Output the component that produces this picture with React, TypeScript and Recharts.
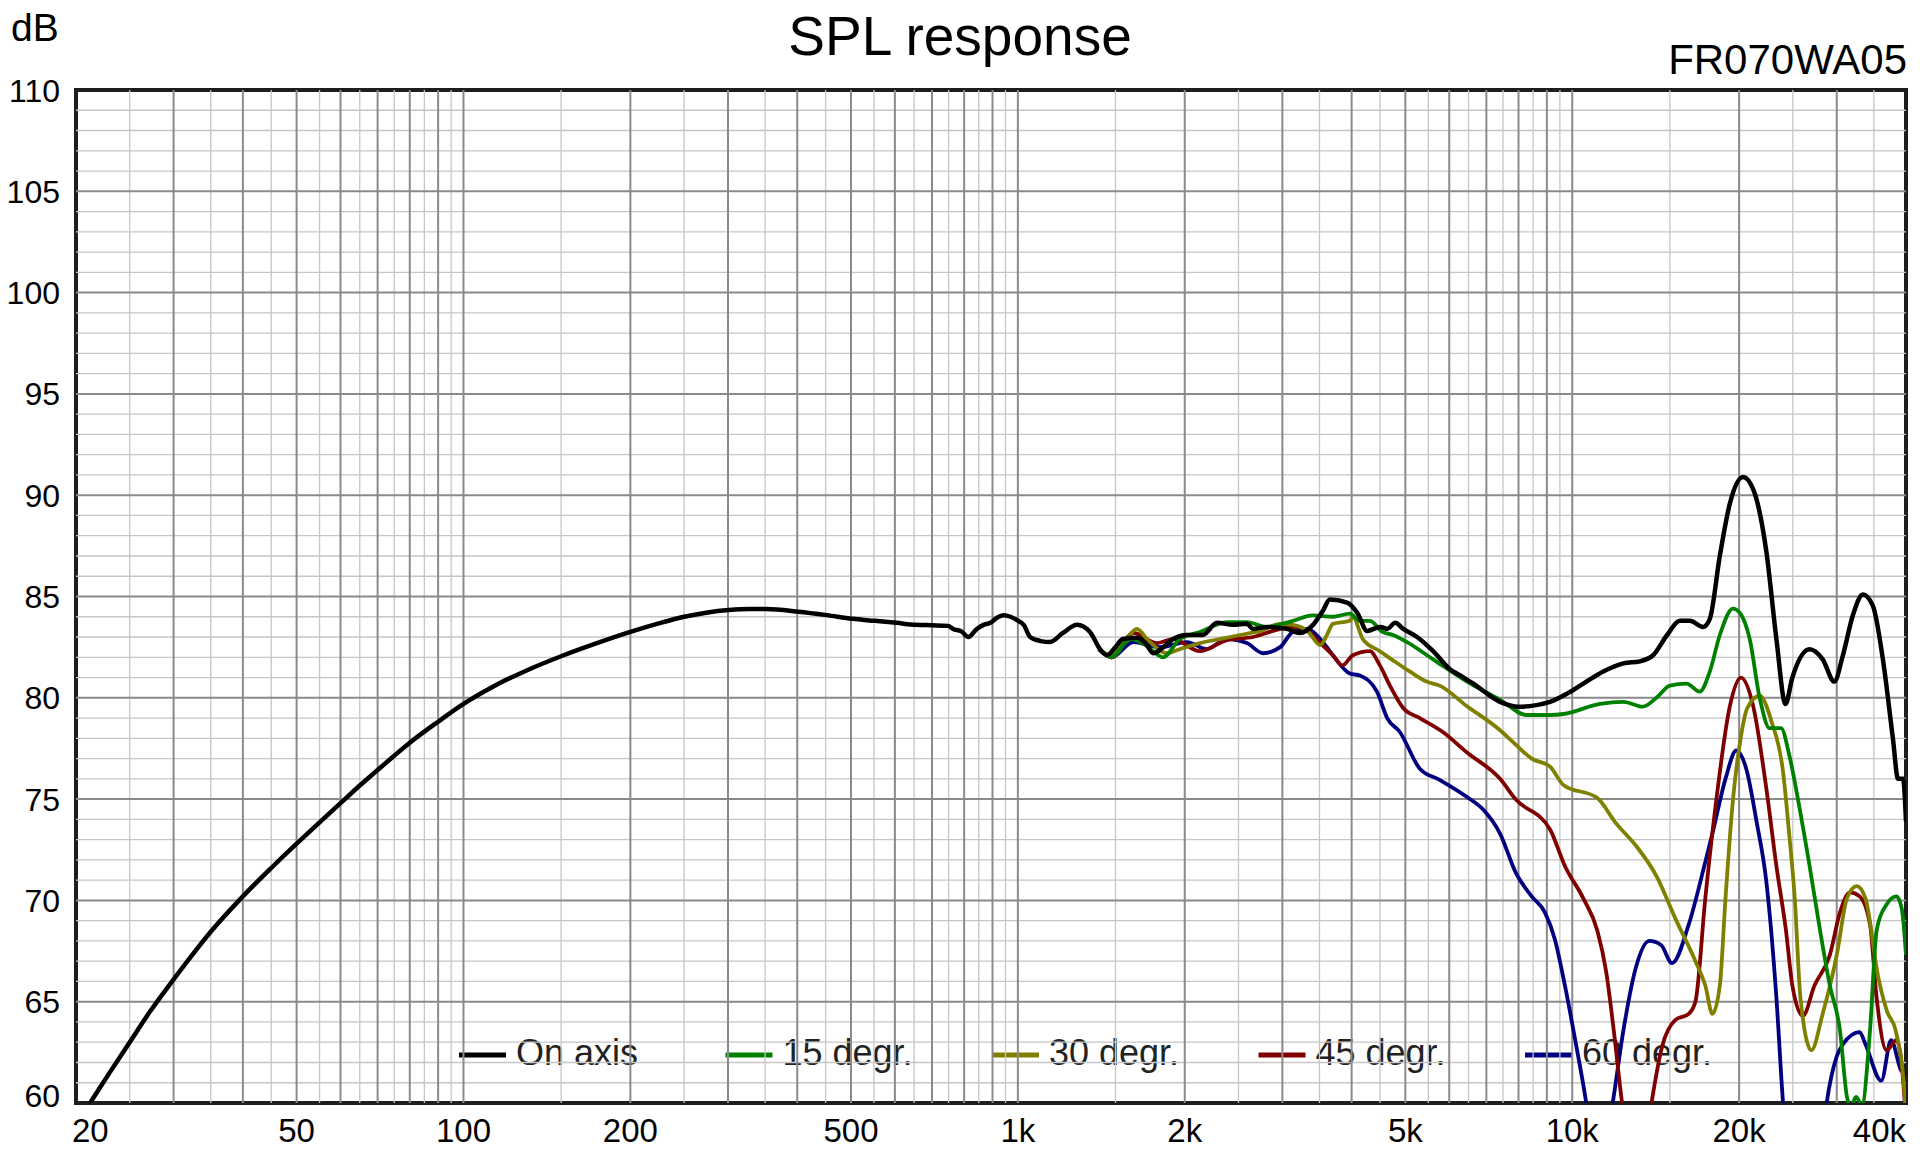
import React from 'react';
import { LineChart, Line, XAxis, YAxis, ReferenceLine, ReferenceArea, Customized } from 'recharts';

// ---------- data ----------
const onAxisFreq = [20, 21.2, 23, 25, 27.1, 30, 32.5, 35, 40, 45, 50, 55, 60, 65, 70, 75, 80, 90, 100, 113, 130, 150, 173, 200, 225, 250, 274, 301, 329, 351, 402, 452, 503, 552, 604, 654, 702, 748, 764, 791, 814, 843, 867, 892, 917, 943, 970, 997, 1026, 1052, 1100, 1142, 1206, 1278, 1349, 1407, 1449, 1500, 1546, 1639, 1700, 1754, 1830, 1906, 2018, 2157, 2286, 2444, 2590, 2655, 2813, 3056, 3227, 3407, 3550, 3654, 3925, 4094, 4267, 4508, 4636, 4795, 4956, 5250, 5612, 6025, 6280, 6630, 7410, 8000, 8610, 9120, 9780, 10470, 11380, 12370, 13250, 13990, 14830, 15640, 16300, 17220, 17710, 18460, 19250, 20330, 21200, 22400, 23350, 24250, 24950, 26790, 28300, 29700, 30780, 32100, 33440, 34850, 36340, 37880, 38700, 39520, 40000];
const onAxisDb = [58.94, 60.0, 61.5, 63.0, 64.45, 66.1, 67.35, 68.45, 70.2, 71.6, 72.8, 73.85, 74.8, 75.67, 76.44, 77.14, 77.78, 78.82, 79.7, 80.55, 81.35, 82.05, 82.67, 83.25, 83.67, 84.0, 84.2, 84.33, 84.38, 84.38, 84.25, 84.08, 83.9, 83.8, 83.7, 83.6, 83.58, 83.55, 83.4, 83.28, 83.0, 83.4, 83.6, 83.7, 83.95, 84.08, 84.0, 83.83, 83.58, 83.0, 82.8, 82.75, 83.2, 83.6, 83.25, 82.4, 82.1, 82.5, 82.9, 82.97, 82.7, 82.2, 82.5, 82.9, 83.1, 83.1, 83.7, 83.6, 83.65, 83.4, 83.5, 83.4, 83.2, 83.6, 84.3, 84.85, 84.7, 84.2, 83.3, 83.5, 83.4, 83.7, 83.4, 83.0, 82.3, 81.4, 81.1, 80.7, 79.8, 79.56, 79.64, 79.8, 80.2, 80.7, 81.3, 81.7, 81.8, 82.1, 83.1, 83.8, 83.8, 83.5, 83.9, 87.0, 89.6, 90.9, 90.3, 87.2, 82.9, 79.7, 81.0, 82.4, 81.9, 80.8, 82.1, 84.1, 85.1, 84.55, 81.9, 78.0, 76.0, 76.0, 73.9];

const deg15Freq = [1400, 1476, 1596, 1700, 1754, 1828, 1960, 2130, 2382, 2588, 2812, 3133, 3405, 3700, 3970, 4140, 4315, 4550, 4750, 5035, 5610, 6460, 7410, 8280, 9120, 9640, 11220, 12370, 13400, 14190, 15000, 16080, 16980, 17710, 18460, 19500, 20050, 20900, 21780, 22700, 23800, 24620, 25650, 26800, 28000, 29150, 30400, 31300, 31800, 32500, 33300, 34450, 35400, 36900, 38450, 39300, 40000];
const deg15Db = [82.4, 82.0, 82.9, 82.6, 82.3, 82.0, 82.9, 83.25, 83.74, 83.74, 83.5, 83.8, 84.07, 84.0, 84.15, 83.8, 83.8, 83.25, 83.1, 82.75, 81.9, 80.8, 79.9, 79.15, 79.15, 79.2, 79.7, 79.8, 79.56, 80.0, 80.6, 80.7, 80.3, 81.3, 83.1, 84.4, 84.2, 82.9, 80.0, 78.5, 78.5, 77.2, 74.7, 71.7, 68.5, 65.8, 63.6, 60.3, 59.8, 60.3, 59.9, 63.6, 68.5, 69.8, 70.2, 69.6, 67.3];

const deg30Freq = [1400, 1476, 1560, 1640, 1710, 1857, 1960, 2130, 2313, 2517, 2735, 2972, 3133, 3330, 3512, 3610, 3700, 3970, 4020, 4190, 4498, 4750, 5090, 5460, 5765, 6450, 7410, 7900, 8450, 9120, 9640, 11100, 12000, 13030, 14190, 15350, 16680, 17380, 17900, 18460, 18900, 19500, 20050, 20700, 21780, 22900, 23990, 24620, 25200, 25800, 27000, 28300, 30000, 31300, 32600, 33800, 35650, 37000, 38300, 39800, 40000];
const deg30Db = [82.4, 82.1, 82.8, 83.4, 82.9, 82.2, 82.4, 82.7, 82.9, 83.1, 83.3, 83.65, 83.6, 83.3, 82.6, 83.1, 83.65, 83.8, 84.0, 82.9, 82.3, 81.85, 81.3, 80.8, 80.6, 79.6, 78.4, 77.7, 77.0, 76.6, 75.7, 75.05, 73.8, 72.7, 71.2, 69.1, 67.0, 65.8, 64.4, 65.8, 70.1, 75.0, 77.7, 79.5, 80.1, 78.8, 76.4, 73.3, 70.1, 65.2, 62.6, 64.4, 67.3, 70.1, 70.7, 70.1, 66.2, 64.5, 63.6, 60.3, 59.0];

const deg45Freq = [1400, 1476, 1615, 1783, 1906, 2130, 2382, 2655, 2885, 3133, 3330, 3512, 3700, 3850, 4020, 4315, 4498, 4690, 4955, 5310, 5850, 6460, 7410, 7900, 9120, 9700, 10470, 11100, 11510, 11880, 12300, 12800, 13400, 13900, 14530, 15350, 16220, 16680, 17380, 18200, 19250, 20150, 21200, 22400, 23350, 24300, 24950, 26060, 27350, 29150, 30400, 31700, 33000, 34450, 35400, 36900, 38450, 39800, 40000];
const deg45Db = [82.4, 82.0, 83.2, 82.7, 82.9, 82.3, 82.85, 83.0, 83.3, 83.5, 83.3, 82.7, 82.1, 81.6, 82.1, 82.3, 81.6, 80.6, 79.5, 79.0, 78.3, 77.3, 76.0, 75.0, 73.5, 71.7, 70.1, 68.5, 66.5, 63.6, 60.0, 57.0, 57.0, 60.0, 62.8, 64.1, 64.4, 65.0, 70.1, 75.0, 79.6, 81.0, 79.6, 75.5, 71.7, 68.5, 65.8, 64.3, 65.8, 67.3, 69.4, 70.4, 70.2, 68.8, 65.2, 62.6, 63.1, 60.0, 58.0];

const deg60Freq = [1400, 1476, 1615, 1804, 2018, 2192, 2382, 2588, 2770, 2972, 3133, 3330, 3512, 3700, 3970, 4140, 4444, 4636, 4890, 5310, 5765, 6460, 6900, 7410, 7900, 8450, 8930, 9300, 9700, 10110, 10600, 11100, 11830, 12370, 13030, 13770, 14460, 15140, 16220, 17380, 17900, 18900, 19760, 20600, 21500, 22400, 23350, 23990, 25500, 27500, 28770, 30000, 30780, 33000, 33800, 36100, 37600, 39200, 40000];
const deg60Db = [82.4, 82.0, 82.75, 82.5, 82.75, 82.4, 82.9, 82.7, 82.2, 82.5, 83.25, 83.4, 82.9, 82.1, 81.2, 81.1, 80.3, 79.0, 78.3, 76.5, 75.95, 75.1, 74.5, 73.3, 71.4, 70.2, 69.4, 68.1, 65.8, 63.2, 60.0, 56.0, 60.0, 63.6, 66.7, 68.0, 67.8, 66.9, 68.8, 71.9, 73.3, 76.0, 77.4, 76.5, 73.9, 70.9, 65.2, 60.1, 55.0, 55.0, 60.0, 62.3, 62.9, 63.5, 62.9, 61.1, 63.1, 61.6, 61.4];

const seriesNames = ['On axis', '15 degr.', '30 degr.', '45 degr.', '60 degr.'];
const seriesColors = ['#000000', '#008000', '#808000', '#800000', '#000080'];

const xTicks = [20, 50, 100, 200, 500, 1000, 2000, 5000, 10000, 20000, 40000];
const xTickLabels = ['20', '50', '100', '200', '500', '1k', '2k', '5k', '10k', '20k', '40k'];
const yTicks = [60, 65, 70, 75, 80, 85, 90, 95, 100, 105, 110];

const majorFreqs = [30, 40, 50, 60, 70, 80, 90, 100, 200, 300, 400, 500, 600, 700, 800, 900, 1000, 2000, 3000, 4000, 5000, 6000, 7000, 8000, 9000, 10000, 20000, 30000];
const minorFreqs = [25, 35, 45, 55, 65, 75, 85, 95, 150, 250, 350, 450, 550, 650, 750, 850, 950, 1500, 2500, 3500, 4500, 5500, 6500, 7500, 8500, 9500, 15000, 25000, 35000];
const majorDb = [65, 70, 75, 80, 85, 90, 95, 100, 105];
const minorDb = [61, 62, 63, 64, 66, 67, 68, 69, 71, 72, 73, 74, 76, 77, 78, 79, 81, 82, 83, 84, 86, 87, 88, 89, 91, 92, 93, 94, 96, 97, 98, 99, 101, 102, 103, 104, 106, 107, 108, 109];

const toPoints = (f: number[], d: number[]) => f.map((v, i) => ({ f: v, db: d[i] }));
const seriesData = [
  toPoints(onAxisFreq, onAxisDb),
  toPoints(deg15Freq, deg15Db),
  toPoints(deg30Freq, deg30Db),
  toPoints(deg45Freq, deg45Db),
  toPoints(deg60Freq, deg60Db),
];

const FONT = 'Liberation Sans, Arial, Helvetica, sans-serif';

const XTick = (props: any) => {
  const { x, y, payload } = props;
  const i = xTicks.indexOf(payload.value);
  const anchor = i === 0 ? 'start' : i === xTicks.length - 1 ? 'end' : 'middle';
  const dx = i === 0 ? -4 : 0;
  return (
    <text x={x + dx} y={y + 39} textAnchor={anchor} fontSize={33} fill="#000" fontFamily={FONT}>
      {xTickLabels[i]}
    </text>
  );
};

const YTick = (props: any) => {
  const { x, y, payload } = props;
  const shift = payload.value === 60 ? -8 : 0;
  return (
    <text x={x - 16} y={y + shift} dy="0.36em" textAnchor="end" fontSize={32} fill="#000" fontFamily={FONT}>
      {payload.value}
    </text>
  );
};

const LegendLayer = () => (
  <g>
    <rect x={436} y={1007} width={1310} height={96} fill="#ffffff" fillOpacity={0.62} />
    {seriesNames.map((n, i) => {
      const x0 = 459 + i * 266.5;
      return (
        <g key={n}>
          <line x1={x0} x2={x0 + 47} y1={1055} y2={1055} stroke={seriesColors[i]} strokeWidth={5} />
          <text x={x0 + 57} y={1065} fontSize={36} fill="#222" fontFamily={FONT}>{n}</text>
        </g>
      );
    })}
  </g>
);

const TitleLayer = () => (
  <g fontFamily={FONT} fill="#000">
    <text x={960} y={55} textAnchor="middle" fontSize={55}>SPL response</text>
    <text x={11} y={41} fontSize={39}>dB</text>
    <text x={1907} y={74} textAnchor="end" fontSize={42}>FR070WA05</text>
  </g>
);

export default function App() {
  const drawOrder = [4, 3, 2, 1, 0];
  return (
    <div style={{ position: 'fixed', left: 0, top: 0, width: 1926, height: 1150, background: '#fff' }}>
      <LineChart width={1926} height={1150} margin={{ top: 90, right: 20, bottom: 0, left: 16 }}>
        <XAxis
          dataKey="f"
          type="number"
          scale="log"
          domain={[20, 40000]}
          ticks={xTicks}
          interval={0}
          allowDataOverflow
          axisLine={false}
          tickLine={false}
          tickSize={0}
          tickMargin={0}
          height={47}
          tick={<XTick />}
        />
        <YAxis
          type="number"
          domain={[60, 110]}
          ticks={yTicks}
          interval={0}
          allowDataOverflow
          axisLine={false}
          tickLine={false}
          tickSize={0}
          tickMargin={0}
          width={60}
          tick={<YTick />}
        />
        {minorDb.map((v) => (
          <ReferenceLine key={'hm' + v} y={v} stroke="#c6c6c6" strokeWidth={1.3} />
        ))}
        {minorFreqs.map((v) => (
          <ReferenceLine key={'vm' + v} x={v} stroke="#c6c6c6" strokeWidth={1.3} />
        ))}
        {majorDb.map((v) => (
          <ReferenceLine key={'hM' + v} y={v} stroke="#8a8a8a" strokeWidth={2} />
        ))}
        {majorFreqs.map((v) => (
          <ReferenceLine key={'vM' + v} x={v} stroke="#8a8a8a" strokeWidth={2} />
        ))}
        <Customized component={LegendLayer} />
        <Customized component={TitleLayer} />
        {drawOrder.map((i) => (
          <Line
            key={seriesNames[i]}
            data={seriesData[i]}
            dataKey="db"
            name={seriesNames[i]}
            type="monotone"
            stroke={seriesColors[i]}
            strokeWidth={i === 0 ? 4.5 : 3.8}
            dot={false}
            activeDot={false}
            isAnimationActive={false}
          />
        ))}
        <ReferenceArea x1={20} x2={40000} y1={60} y2={110} fill="none" fillOpacity={0} stroke="#1e1e1e" strokeWidth={4} />
      </LineChart>
    </div>
  );
}
